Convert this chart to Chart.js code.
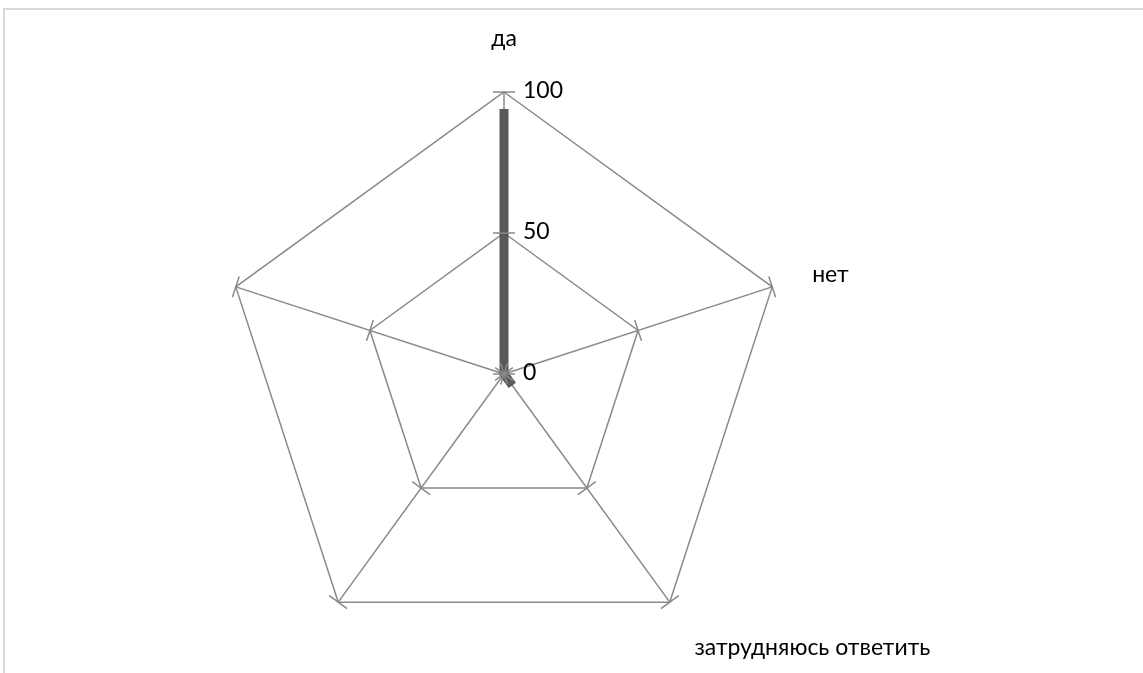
<!DOCTYPE html>
<html lang="ru">
<head>
<meta charset="utf-8">
<title>Radar</title>
<script src="https://cdn.jsdelivr.net/npm/chart.js@4"></script>
<style>
  html, body { margin: 0; padding: 0; background: #fff; }
  #wrap { width: 1143px; height: 673px; position: relative; }
</style>
</head>
<body>
<div id="wrap"><canvas id="radar"></canvas></div>
<script>
  // ── data ──
  const categories = ['да', 'нет', 'затрудняюсь ответить', '', ''];
  const answers = [94, 0, 5, 0, 0];
  const tickValues = [0, 50, 100];

  const GRID = '#898989';
  const SERIES = '#595959';
  const FONT = "Lato, 'Open Sans', sans-serif";

  // ── Excel-like extras: frame, axis tick marks, tick labels, point labels ──
  const excelDecor = {
    id: 'excelDecor',
    beforeDraw(chart) {
      const ctx = chart.ctx;
      ctx.save();
      ctx.strokeStyle = '#d9d9d9';
      ctx.lineWidth = 2;
      ctx.strokeRect(4, 9, chart.width + 10, chart.height + 10);
      ctx.restore();
    },
    afterDraw(chart) {
      const scale = chart.scales.r;
      const ctx = chart.ctx;
      const n = categories.length;
      ctx.save();

      // small perpendicular tick marks on every axis
      ctx.strokeStyle = GRID;
      ctx.lineWidth = 1.5;
      for (let i = 0; i < n; i++) {
        const outer = scale.getPointPosition(i, scale.drawingArea);
        const ux = (outer.x - scale.xCenter) / scale.drawingArea;
        const uy = (outer.y - scale.yCenter) / scale.drawingArea;
        tickValues.forEach(v => {
          const p = scale.getPointPositionForValue(i, v);
          ctx.beginPath();
          ctx.moveTo(p.x - uy * 11, p.y + ux * 11);
          ctx.lineTo(p.x + uy * 11, p.y - ux * 11);
          ctx.stroke();
        });
      }

      // tick labels to the right of the first axis
      ctx.fillStyle = '#000';
      ctx.font = '23px ' + FONT;
      ctx.textAlign = 'left';
      ctx.textBaseline = 'middle';
      tickValues.forEach(v => {
        const p = scale.getPointPositionForValue(0, v);
        ctx.fillText(String(v), p.x + 19, p.y - 1.5);
      });

      // category labels
      categories.forEach((label, i) => {
        if (!label) return;
        const p = scale.getPointPosition(i, scale.drawingArea + 42);
        const dx = p.x - scale.xCenter, dy = p.y - scale.yCenter;
        const d = Math.hypot(dx, dy);
        ctx.textAlign = Math.abs(dx) < 2 ? 'center' : (dx > 0 ? 'left' : 'right');
        ctx.textBaseline = dy / d < -0.9 ? 'bottom' : (dy / d > 0.5 ? 'top' : 'middle');
        ctx.fillText(label, p.x, p.y + (ctx.textBaseline === 'middle' ? 1 : 0));
      });
      ctx.restore();
    }
  };

  new Chart(document.getElementById('radar'), {
    type: 'radar',
    data: {
      labels: categories,
      datasets: [{
        label: 'Ответы',
        data: answers,
        borderColor: SERIES,
        borderWidth: 9,
        backgroundColor: 'transparent',
        fill: false,
        pointRadius: 0,
        pointHoverRadius: 0,
        tension: 0,
      }],
    },
    options: {
      responsive: true,
      maintainAspectRatio: false,
      animation: false,
      layout: { padding: { left: 204, right: 339, top: 92, bottom: 17 } },
      plugins: { legend: { display: false }, tooltip: { enabled: false } },
      scales: {
        r: {
          min: 0,
          max: 100,
          ticks: { display: false, stepSize: 50 },
          grid: { color: GRID, lineWidth: 1.5 },
          angleLines: { color: GRID, lineWidth: 1.5 },
          pointLabels: { display: false },
        },
      },
    },
    plugins: [excelDecor],
  });
</script>
</body>
</html>
